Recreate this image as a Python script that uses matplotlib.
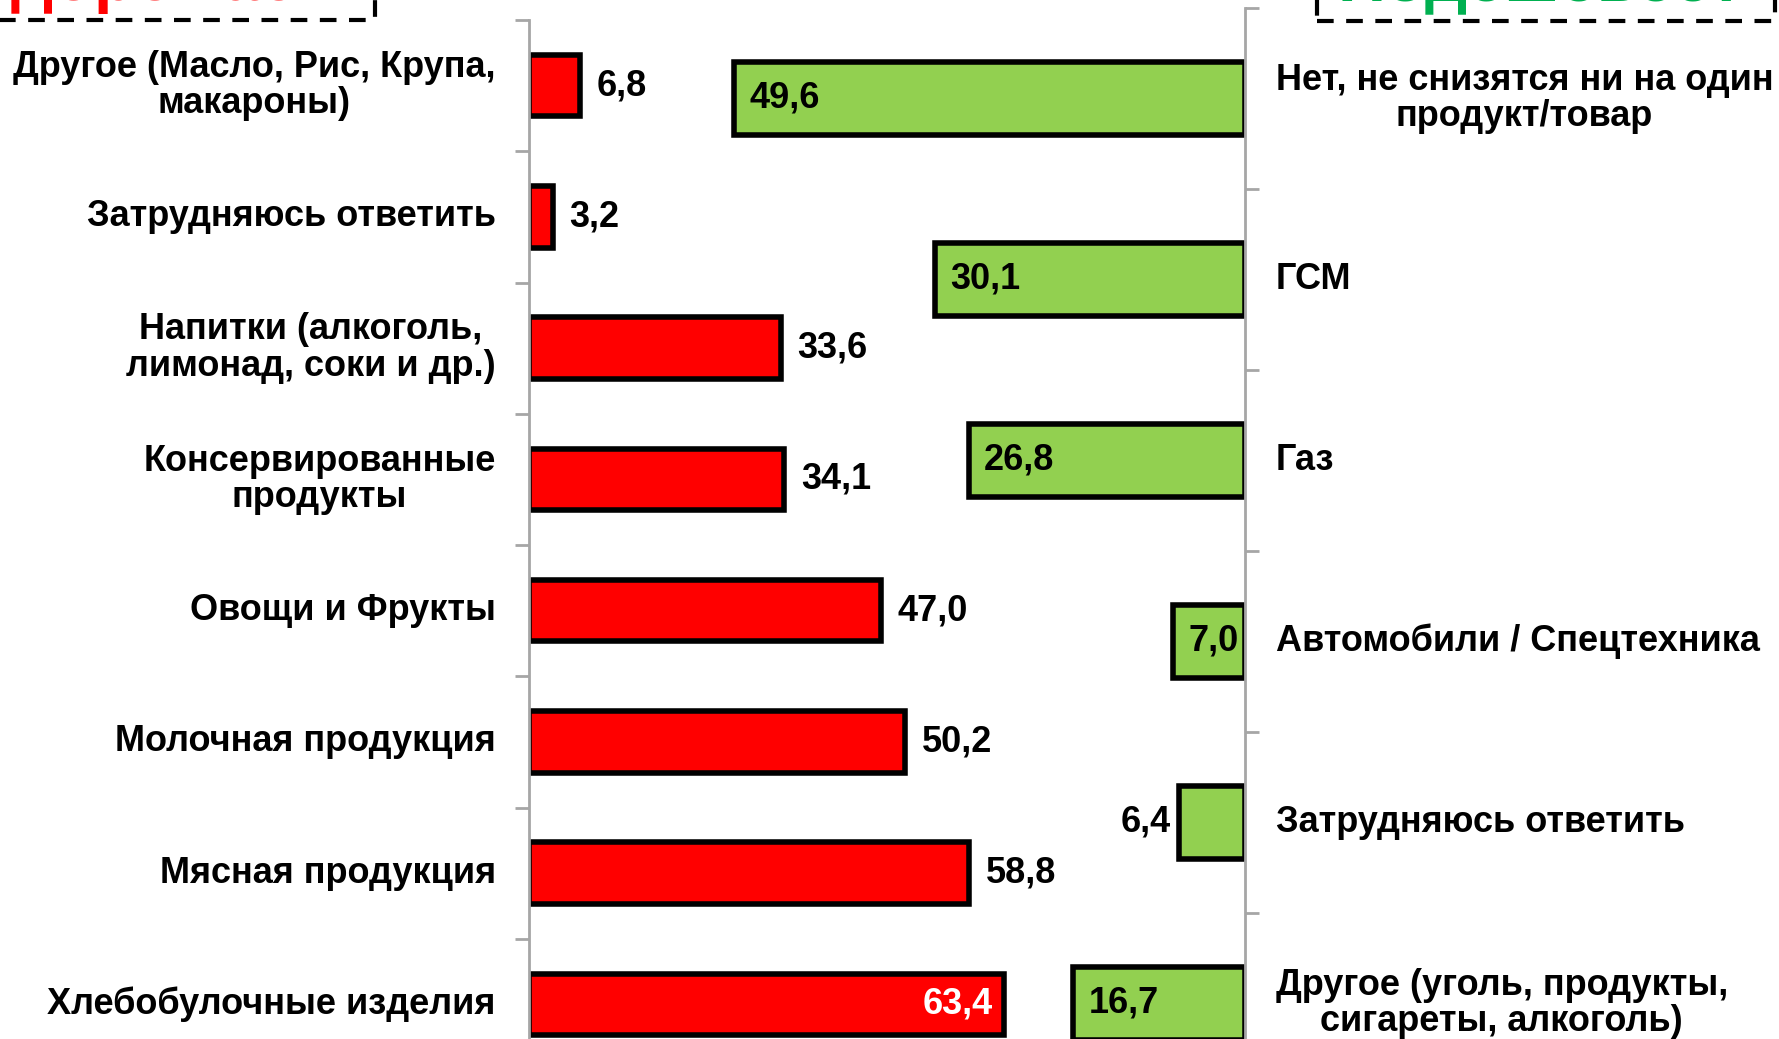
import matplotlib.pyplot as plt
from matplotlib.patches import Rectangle

plt.rcParams['font.family'] = ['Liberation Sans', 'DejaVu Sans']
plt.rcParams['font.weight'] = 'bold'

# left panel: prices will rise
up_labels = ["Другое (Масло, Рис, Крупа,\nмакароны)", "Затрудняюсь ответить",
             "Напитки (алкоголь,\nлимонад, соки и др.)", "Консервированные\nпродукты",
             "Овощи и Фрукты", "Молочная продукция", "Мясная продукция",
             "Хлебобулочные изделия"]
up_values = [6.8, 3.2, 33.6, 34.1, 47.0, 50.2, 58.8, 63.4]

# right panel: prices will fall
down_labels = ["Нет, не снизятся ни на один\nпродукт/товар", "ГСМ", "Газ",
               "Автомобили / Спецтехника", "Затрудняюсь ответить",
               "Другое (уголь, продукты,\nсигареты, алкоголь)"]
down_values = [49.6, 30.1, 26.8, 7.0, 6.4, 16.7]

W, H = 1779, 1039
fig = plt.figure(figsize=(W / 100, H / 100), dpi=100)

RED = '#FF0000'
GREEN = '#92D050'
AX_GRAY = '#A6A6A6'
FS = 26
LS = 1.05

def fmt(v):
    return ('%.1f' % v).replace('.', ',')

x0, x1 = 529, 1245
# left axes
axl = fig.add_axes([x0 / W, 1 - 1070 / H, (x1 - x0) / W, (1070 - 20) / H])
axl.patch.set_alpha(0)
n = len(up_values)
pos = list(range(n))
axl.barh(pos, up_values, height=0.47, color=RED, edgecolor='black', linewidth=4)
axl.set_xlim(0, (x1 - x0) / 7.49)
axl.set_ylim(n - 0.5, -0.5)
for s in ['top', 'right', 'bottom']:
    axl.spines[s].set_visible(False)
axl.spines['left'].set_color(AX_GRAY)
axl.spines['left'].set_linewidth(2)
axl.set_xticks([])
axl.set_yticks([i - 0.5 for i in range(n + 1)])
axl.set_yticklabels([])
axl.tick_params(axis='y', direction='out', length=10, width=2, color=AX_GRAY)
for i, (lab, v) in enumerate(zip(up_labels, up_values)):
    axl.annotate(lab, xy=(0, i), xytext=(-24, 0), textcoords='offset points',
                 ha='right', va='center', multialignment='center', fontsize=FS,
                 fontweight='bold', linespacing=LS)
    if v > 60:
        axl.annotate(fmt(v), xy=(v, i), xytext=(-8, 0), textcoords='offset points',
                     ha='right', va='center', color='white', fontsize=FS, fontweight='bold')
    else:
        axl.annotate(fmt(v), xy=(v, i), xytext=(12, 0), textcoords='offset points',
                     ha='left', va='center', color='black', fontsize=FS, fontweight='bold')

# right axes
axr = fig.add_axes([x0 / W, 1 - 1094 / H, (x1 - x0) / W, (1094 - 8) / H])
axr.patch.set_alpha(0)
m = len(down_values)
posr = list(range(m))
axr.barh(posr, down_values, height=0.4, color=GREEN, edgecolor='black', linewidth=4)
axr.set_xlim((x1 - x0) / 10.3, 0)
axr.set_ylim(m - 0.5, -0.5)
for s in ['top', 'left', 'bottom']:
    axr.spines[s].set_visible(False)
axr.spines['right'].set_color(AX_GRAY)
axr.spines['right'].set_linewidth(2)
axr.set_xticks([])
axr.yaxis.tick_right()
axr.set_yticks([i - 0.5 for i in range(m + 1)])
axr.set_yticklabels([])
axr.tick_params(axis='y', direction='out', length=10, width=2, color=AX_GRAY)
for i, (lab, v) in enumerate(zip(down_labels, down_values)):
    axr.annotate(lab, xy=(0, i), xytext=(22, 0), textcoords='offset points',
                 ha='left', va='center', multialignment='center', fontsize=FS,
                 fontweight='bold', linespacing=LS)
    if v > 6.5:
        axr.annotate(fmt(v), xy=(v, i), xytext=(11, 0), textcoords='offset points',
                     ha='left', va='center', color='black', fontsize=FS, fontweight='bold')
    else:
        axr.annotate(fmt(v), xy=(v, i), xytext=(-6, 0), textcoords='offset points',
                     ha='right', va='center', color='black', fontsize=FS, fontweight='bold')

# header boxes, cut off by the top edge as in the source
fig.add_artist(Rectangle((-10 / W, 1 - 20 / H), 385 / W, 80 / H, transform=fig.transFigure,
                         fill=False, ec='black', lw=3, ls=(0, (4, 3))))
fig.text(-76 / W, 1.0, 'Подорожает', color=RED, fontsize=48, fontweight='bold',
         ha='left', va='baseline')
fig.add_artist(Rectangle((1317 / W, 1 - 21 / H), 458 / W, 80 / H, transform=fig.transFigure,
                         fill=False, ec='black', lw=3, ls=(0, (4, 3))))
fig.text(1337 / W, 1.0, 'Подешевеет', color='#00B050', fontsize=48, fontweight='bold',
         ha='left', va='baseline')

fig.savefig('out.png', dpi=100)
